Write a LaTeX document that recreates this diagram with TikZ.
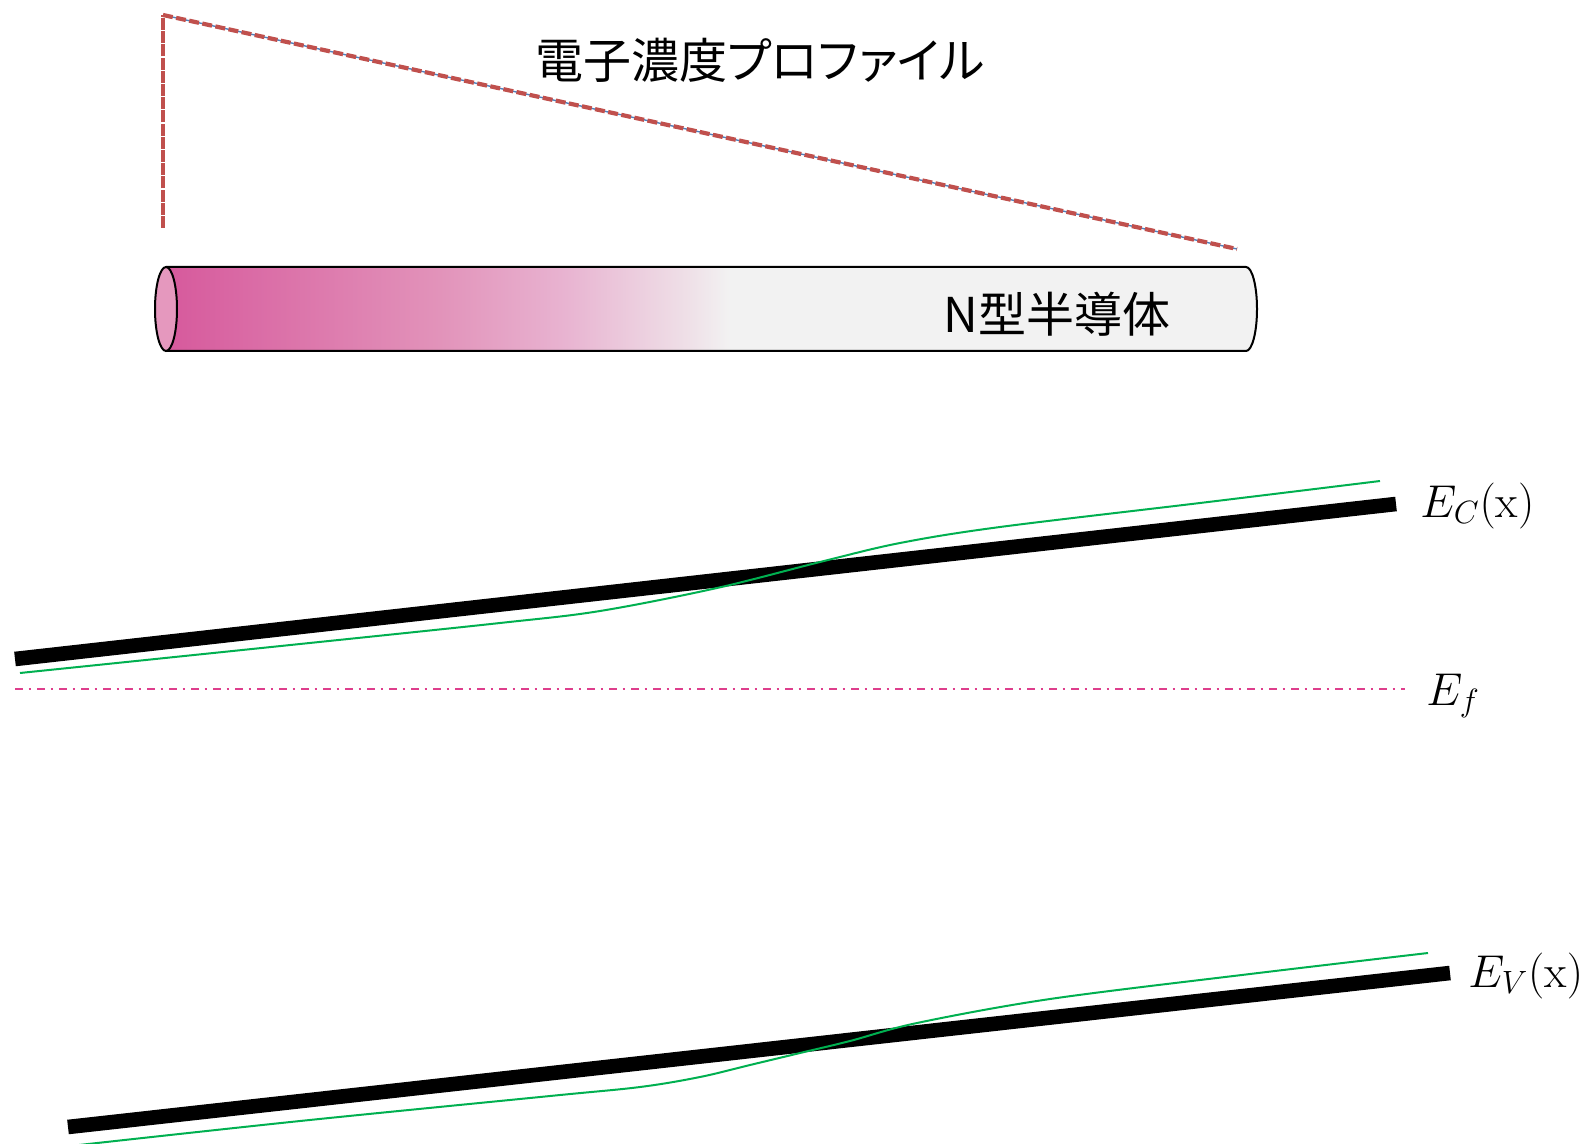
\RequirePackage{fix-cm}
\documentclass[tikz,border=0pt]{standalone}
\usepackage{fontspec}
\newfontfamily\jp[RawFeature=+palt]{Noto Sans CJK JP}
\definecolor{pfred}{RGB}{192,80,77}
\definecolor{pfblue}{RGB}{79,129,189}
\definecolor{efpink}{RGB}{222,62,140}
\definecolor{bandgreen}{RGB}{0,176,80}
\definecolor{cylend}{RGB}{229,152,190}
\pgfdeclarehorizontalshading{cylshade}{100bp}{rgb(0bp)=(0.839,0.341,0.608); rgb(25bp)=(0.839,0.341,0.608); rgb(37.9bp)=(0.886,0.576,0.729); rgb(43.4bp)=(0.910,0.698,0.816); rgb(49.3bp)=(0.937,0.882,0.910); rgb(51.1bp)=(0.949,0.949,0.949); rgb(100bp)=(0.949,0.949,0.949)}
\tikzset{
  profilev/.style={pfred, line width=2.1pt, dash pattern=on 6pt off 0.6pt},
  profiles/.style={pfred, line width=2.1pt, dash pattern=on 5pt off 1.7pt},
  profileblue/.style={pfblue, line width=0.7pt},
  bandline/.style={black, line width=7.3pt},
  bandcurve/.style={bandgreen, line width=1pt},
  efline/.style={efpink, line width=1.2pt, dash pattern=on 3.85pt off 3pt on 1pt off 3.15pt},
  mathlbl/.style={inner sep=0pt, font=\fontsize{23pt}{27pt}\selectfont},
  jptext/.style={inner sep=0pt, font=\jp\fontsize{24pt}{28pt}\selectfont},
}
\begin{document}
\begin{tikzpicture}[x=0.5pt,y=-0.5pt]
\useasboundingbox (0,0) rectangle (1589,1144);

% electron concentration profile
\coordinate (pbot) at (163,228);
\coordinate (ptop) at (163,15);
\coordinate (pend) at (1237,249);
\draw[profileblue] (ptop) -- (pend);
\draw[profilev] (pbot) -- (ptop);
\draw[profiles] (ptop) -- (pend);
\node[jptext] (title) at (760,60) {電子濃度プロファイル};

% cylinder
\fill[shading=cylshade] (166,267) -- (1246,267)
  arc[start angle=90, end angle=-90, x radius=5.5pt, y radius=21pt]
  -- (166,351)
  arc[start angle=270, end angle=90, x radius=5.5pt, y radius=21pt] -- cycle;
\draw[black, line width=1pt] (166,267) -- (1246,267)
  arc[start angle=90, end angle=-90, x radius=5.5pt, y radius=21pt]
  -- (166,351);
\draw[black, line width=1pt, fill=cylend] (166,309) ellipse [x radius=5.5pt, y radius=21pt];
\node[jptext] (ntype) at (1057,314) {N型半導体};

% conduction band
\coordinate (c1) at (15,659);
\coordinate (c2) at (1396,504);
\draw[bandline] (c1) -- (c2);
\draw[bandcurve] plot[smooth, tension=0.55] coordinates {(20,673) (300,644) (500,623) (600,611) (717,588) (820,562) (900,543) (1000,527) (1200,503) (1380,481)};
\node[mathlbl, anchor=base west] (ecl) at (1420,517) {$E_C(\mathrm{x})$};

% Fermi level
\coordinate (f1) at (15,689);
\coordinate (f2) at (1405,689);
\draw[efline] (f1) -- (f2);
\node[mathlbl, anchor=base west] (efl) at (1426,705) {$E_f$};

% valence band
\coordinate (v1) at (68,1127);
\coordinate (v2) at (1450,973);
\draw[bandline] (v1) -- (v2);
\draw[bandcurve] plot[smooth, tension=0.55] coordinates {(70,1146) (300,1121) (550,1096) (640,1087) (700,1077) (750,1065) (800,1053) (850,1041) (917,1023) (1050,999) (1250,974) (1428,953)};
\node[mathlbl, anchor=base west] (evl) at (1468,987) {$E_V(\mathrm{x})$};
\end{tikzpicture}
\end{document}
